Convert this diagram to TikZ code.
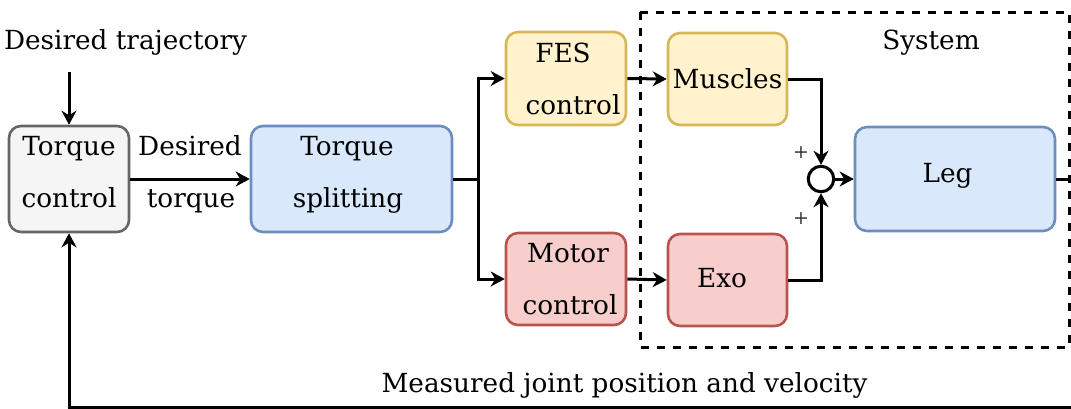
\documentclass[tikz,border=0pt]{standalone}
\usepackage{fontspec}
\setmainfont{DejaVu Serif}
\usetikzlibrary{arrows.meta}
\definecolor{grayfill}{HTML}{F5F5F5}
\definecolor{graydraw}{HTML}{666666}
\definecolor{bluefill}{HTML}{DAE8FC}
\definecolor{bluedraw}{HTML}{6C8EBF}
\definecolor{yelfill}{HTML}{FFF2CC}
\definecolor{yeldraw}{HTML}{D6B656}
\definecolor{redfill}{HTML}{F8CECC}
\definecolor{reddraw}{HTML}{B85450}
\newcommand\twoline[2]{\begin{tabular}[b]{@{}c@{}}#1\\#2\end{tabular}}
\newcommand\shiftby[2]{\hspace*{#1}#2}
\tikzset{
  txt/.style={font=\fontsize{26.3pt}{52pt}\selectfont, inner sep=0pt},
  blockbox/.style={txt, rectangle, rounded corners=12pt, line width=2.6pt, inner sep=0pt},
  graybox/.style={blockbox, fill=grayfill, draw=graydraw},
  bluebox/.style={blockbox, fill=bluefill, draw=bluedraw},
  yelbox/.style={blockbox, fill=yelfill, draw=yeldraw},
  redbox/.style={blockbox, fill=redfill, draw=reddraw},
  arr/.style={line width=3pt, -{Stealth[length=14pt,width=15pt,inset=4.5pt]}},
  plain/.style={line width=3pt},
  sumc/.style={circle, draw, line width=3pt, fill=white, minimum size=25.5pt, inner sep=0pt},
  signtxt/.style={font=\fontsize{19pt}{19pt}\selectfont, text=black!80, inner sep=0pt},
  sysframe/.style={line width=3pt, dash pattern=on 8pt off 8pt},
}
\begin{document}
\begin{tikzpicture}[x=1pt,y=-1pt]
\useasboundingbox (0,0) rectangle (1071,408);
% system frame
\draw[sysframe] (640,12) -- (1069,12) -- (1069,347) -- (640,347) -- cycle;
\node[txt, anchor=base] (systxt) at (931,49) {System};
% texts
\node[txt, anchor=base] (dtraj) at (125.5,49.5) {Desired trajectory};
\node[txt, anchor=base] (meas) at (624.5,392) {Measured joint position and velocity};
% blocks
\node[graybox, minimum width=120pt, minimum height=106pt, text height=56pt, text depth=0pt] (tc) at (69,179) {\twoline{Torque}{control}};
\node[bluebox, minimum width=201pt, minimum height=106pt, text height=56pt, text depth=0pt] (ts) at (351.5,179) {\twoline{\shiftby{-9pt}{Torque}}{\shiftby{-7pt}{splitting}}};
\node[yelbox, minimum width=120pt, minimum height=93pt, text height=71pt, text depth=0pt] (fes) at (566,78.5) {\twoline{\shiftby{-6pt}{FES}}{\shiftby{14pt}{control}}};
\node[redbox, minimum width=120pt, minimum height=92pt, text height=70pt, text depth=0pt] (mot) at (566,279) {\twoline{\shiftby{4pt}{Motor}}{\shiftby{8pt}{control}}};
\node[yelbox, minimum width=119pt, minimum height=92pt, text height=18pt, text depth=0pt] (mus) at (727.5,79) {Muscles};
\node[redbox, minimum width=119pt, minimum height=92pt, text height=14pt, text depth=0pt] (exo) at (727.5,280) {\shiftby{-11pt}{Exo}};
\node[bluebox, minimum width=200pt, minimum height=104pt, text height=6pt, text depth=0pt] (leg) at (955,179) {\shiftby{-15pt}{Leg}};
\node[sumc] (sum) at (821,179) {};
\node[signtxt] (plusa) at (801,153) {+};
\node[signtxt] (plusb) at (801,219) {+};
% coordinates
\coordinate (dtin) at (69,72);
\coordinate (sp) at (478,179);
\coordinate (fbr) at (1074,179);
\coordinate (fbb) at (1074,407);
\coordinate (fbl) at (69,407);
% connectors
\draw[arr] (dtin) -- (tc.north);
\draw[arr] (tc.east) -- node[txt, text height=56pt, text depth=0pt] (dtlbl) {\twoline{Desired}{\shiftby{2pt}{torque}}} (ts.west);
\draw[plain] (ts.east) -- (sp);
\draw[arr] (sp) |- (fes.west);
\draw[arr] (sp) |- (mot.west);
\draw[arr] (fes.east) -- (mus.west);
\draw[arr] (mot.east) -- (exo.west);
\draw[arr] (mus.east) -| (sum.north);
\draw[arr] (exo.east) -| (sum.south);
\draw[arr] (sum.east) -- (leg.west);
\draw[arr] (leg.east) -- (fbr) -- (fbb) -- (fbl) -- (tc.south);
\end{tikzpicture}
\end{document}
